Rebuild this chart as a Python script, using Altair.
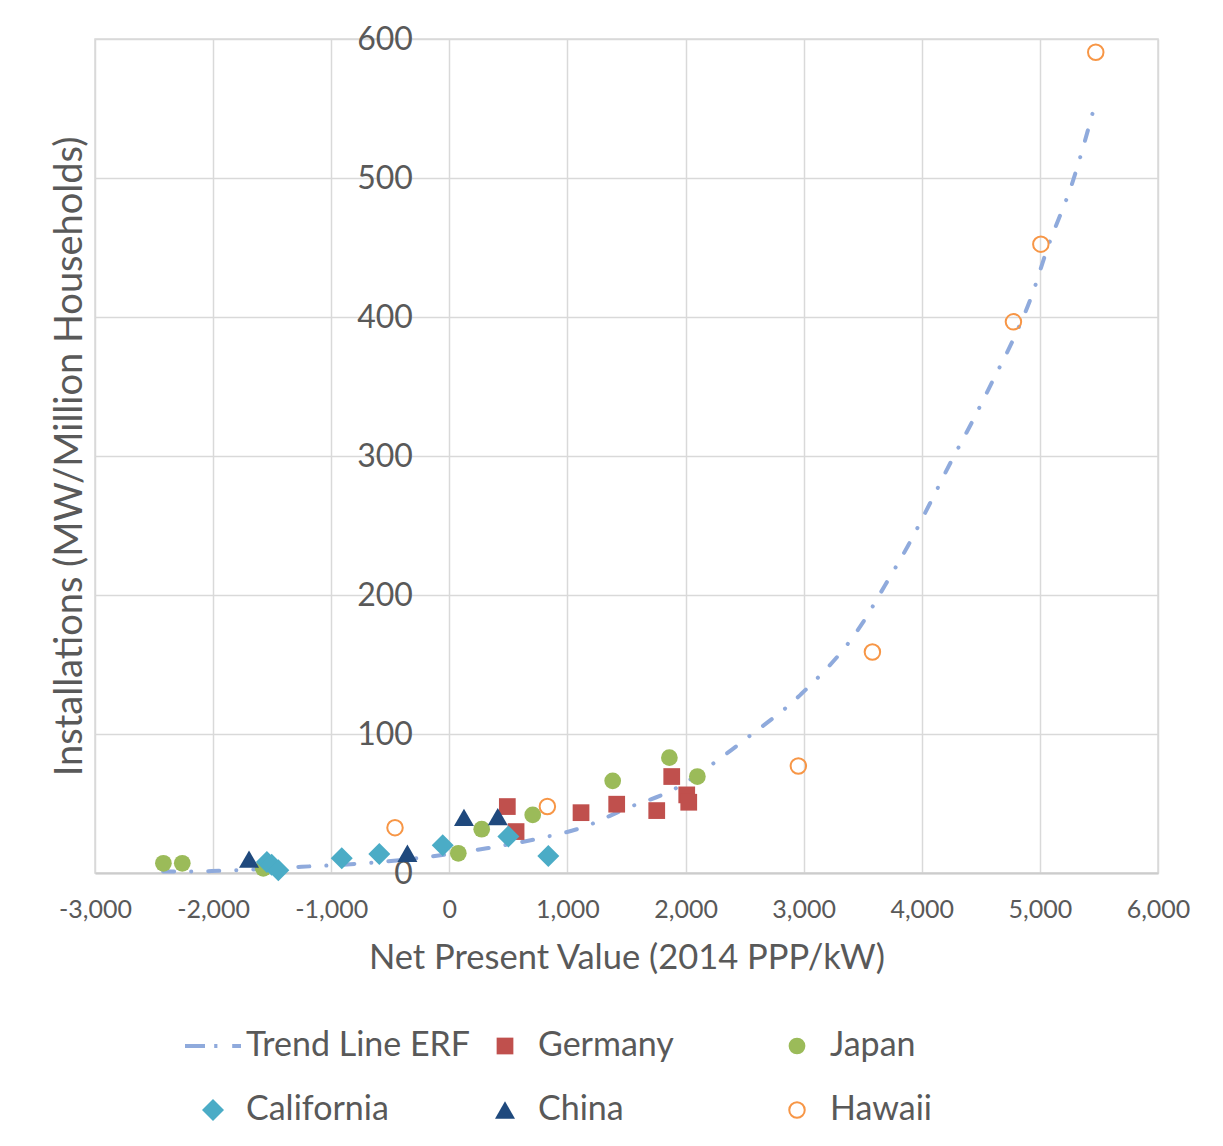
import altair as alt
import pandas as pd

# ---------------- data ----------------
series_order = ["Trend Line ERF", "Germany", "Japan", "California", "China", "Hawaii"]

germany_x = [491, 565, 1115, 1417, 1756, 1883, 2010, 2027]
germany_y = [47.8, 29.8, 43.4, 49.5, 44.9, 69.4, 56.2, 50.9]

japan_x = [-2421, -2261, -1575, 76, 274, 706, 1383, 1863, 2100]
japan_y = [7.0, 7.0, 3.4, 14.2, 31.5, 41.8, 66.3, 83.0, 69.4]

california_x = [-1545, -1504, -1448, -911, -593, -56, 500, 838]
california_y = [8.0, 6.0, 2.0, 10.6, 13.7, 20.0, 26.2, 12.2]

china_x = [-1696, -355, 124, 410]
china_y = [10.0, 14.2, 40.0, 40.6]

hawaii_x = [-460, 830, 2955, 3582, 4776, 5008, 5473]
hawaii_y = [32.6, 47.8, 77.0, 159.0, 396.5, 452.4, 590.5]

trend_x = [-2423, -2012, -1250, -798, -206, 317, 768, 1135, 1502, 1897, 2349,
           2518, 2970, 3492, 3689, 3887, 4070, 4248, 4429, 4606, 4781, 4934,
           5058, 5284, 5473]
trend_y = [1.0, 1.4, 4.5, 6.5, 11.3, 17.8, 25.0, 33.0, 46.6, 60.0, 86.0,
           97.0, 128.0, 179.0, 207.0, 236.0, 266.0, 296.0, 325.0, 355.0, 385.0,
           416.0, 448.0, 499.0, 555.0]

x_ticks = [-3000, -2000, -1000, 0, 1000, 2000, 3000, 4000, 5000, 6000]
y_ticks = [0, 100, 200, 300, 400, 500, 600]

# ---------------- tables ----------------
rows = []
for name, xs, ys in [("Germany", germany_x, germany_y),
                     ("Japan", japan_x, japan_y),
                     ("California", california_x, california_y),
                     ("China", china_x, china_y),
                     ("Hawaii", hawaii_x, hawaii_y)]:
    for xv, yv in zip(xs, ys):
        rows.append({"npv": xv, "inst": yv, "series": name})
points = pd.DataFrame(rows)
trend = pd.DataFrame({"npv": trend_x, "inst": trend_y})

# ---------------- styling ----------------
FONT = "Lato"
TXT = "#595959"
GRID = "#d9d9d9"
W, H = 1063, 834
x0 = W * 3000 / 9000.0

trend_color = "#8FAADC"
trend_symbol = "M-3.5,0L-1,0M0.15,0L0.55,0M2.4,0L3.5,0"

shape_range = [trend_symbol, "square", "circle", "diamond", "triangle-up", "circle"]
fill_range = ["transparent", "#C0504D", "#9BBB59", "#4BACC6", "#1F497D", "transparent"]
stroke_range = [trend_color, "#C0504D", "#9BBB59", "#4BACC6", "#1F497D", "#F79646"]
size_range = [256, 280, 280, 484, 400, 240]
sw_range = [4, 0, 0, 0, 0, 2]

x_scale = alt.Scale(domain=[-3000, 6000], nice=False, zero=False)
y_scale = alt.Scale(domain=[0, 600], nice=False, zero=False)

x_axis = alt.Axis(
    values=x_ticks,
    title="Net Present Value (2014 PPP/kW)",
    labelExpr="(datum.value < 0 ? '-' : '') + format(abs(datum.value), ',')",
    grid=True, ticks=False, labelPadding=24, labelFontSize=25, labelFlush=False,
    titleFontSize=34.5, titleFontWeight="normal", titleX=W / 2, titleY=85,
    titleBaseline="middle", titleAlign="center",
    domainColor="#cccccc", domainWidth=2,
)
y_axis = alt.Axis(
    values=y_ticks,
    title="Installations (MW/Million Households)",
    offset=-x0, ticks=False, domain=False, grid=True,
    labelPadding=37, labelFontSize=32, format="d", labelFlush=False,
    titleFontSize=38, titleFontWeight="normal", titleAngle=270,
    titleX=-379, titleY=H / 2, titleBaseline="middle", titleAlign="center",
)

legend = alt.Legend(
    title=None, orient="none", legendX=101, legendY=990, columns=3,
    direction="horizontal",
    gridAlign="all", columnPadding=17, rowPadding=30, labelOffset=16,
    labelFontSize=34, labelColor=TXT, labelFont=FONT, padding=0,
    labelLimit=400,
)

line = alt.Chart(trend).mark_line(
    color=trend_color, strokeWidth=4, strokeDash=[11, 17, 0.1, 17],
    strokeCap="round", interpolate="monotone",
).encode(
    x=alt.X("npv:Q", scale=x_scale, axis=x_axis),
    y=alt.Y("inst:Q", scale=y_scale, axis=y_axis),
)

pts = alt.Chart(points).mark_point(filled=True, opacity=1).encode(
    x=alt.X("npv:Q", scale=x_scale, axis=x_axis),
    y=alt.Y("inst:Q", scale=y_scale, axis=y_axis),
    shape=alt.Shape("series:N", scale=alt.Scale(domain=series_order, range=shape_range), legend=legend),
    fill=alt.Fill("series:N", scale=alt.Scale(domain=series_order, range=fill_range), legend=legend),
    stroke=alt.Stroke("series:N", scale=alt.Scale(domain=series_order, range=stroke_range), legend=legend),
    size=alt.Size("series:N", scale=alt.Scale(type="ordinal", domain=series_order, range=size_range), legend=legend),
    strokeWidth=alt.StrokeWidth("series:N", scale=alt.Scale(type="ordinal", domain=series_order, range=sw_range), legend=legend),
)

chart = alt.layer(line, pts).properties(
    width=W, height=H,
    autosize=alt.AutoSizeParams(type="none"),
    padding={"left": 87, "top": 31, "right": 50, "bottom": 258},
    background="white",
).configure_view(
    stroke=GRID, strokeWidth=1.5,
).configure_axis(
    gridColor=GRID, gridWidth=1.5, labelColor=TXT, titleColor=TXT,
    labelFont=FONT, titleFont=FONT,
)

chart.save("out.html", embed_options={"renderer": "svg", "actions": False})
